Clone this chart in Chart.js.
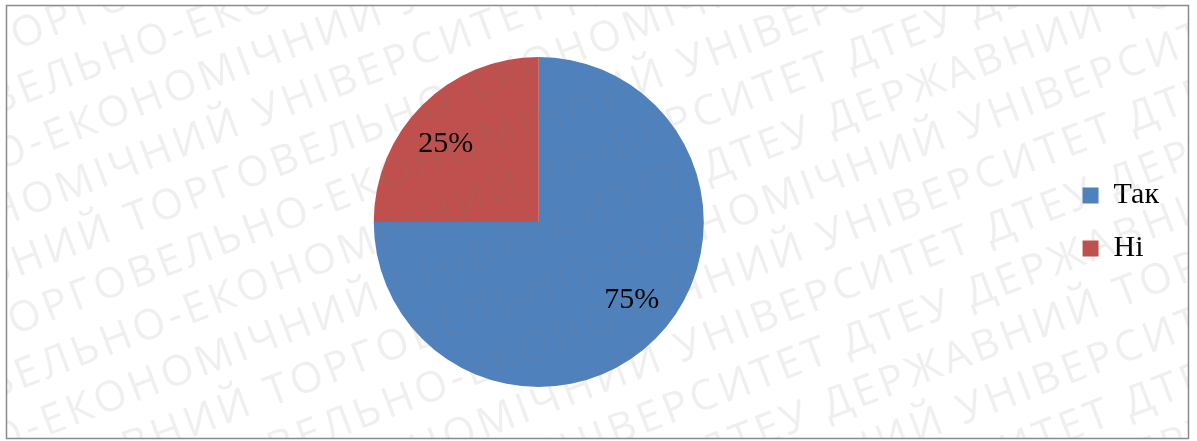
<!DOCTYPE html>
<html><head><meta charset="utf-8">
<script src="https://cdn.jsdelivr.net/npm/chart.js@4"></script>
<style>html,body{margin:0;padding:0;background:#fff}#wrap{width:1197px;height:441px;position:relative}</style>
</head><body><div id="wrap"><canvas id="c" width="1197" height="441"></canvas></div>
<script>
const categories = ['Так', 'Ні'];
const values = [75, 25];
const percentLabels = ['75%', '25%'];
const sliceColors = ['#4F81BD', '#C0504D'];
const watermarkText = 'ДТЕУ ДЕРЖАВНИЙ ТОРГОВЕЛЬНО-ЕКОНОМІЧНИЙ УНІВЕРСИТЕТ ';

const framePlugin = {
  id: 'frame',
  beforeDraw(chart) {
    const ctx = chart.ctx;
    ctx.save();
    ctx.fillStyle = '#fff';
    ctx.fillRect(0, 0, chart.width, chart.height);
    ctx.strokeStyle = '#8a8a8a';
    ctx.lineWidth = 1.5;
    ctx.strokeRect(6.5, 5.5, 1182, 433);
    ctx.restore();
  }
};

const sliceLabelPlugin = {
  id: 'sliceLabels',
  afterDatasetsDraw(chart) {
    const ctx = chart.ctx;
    const meta = chart.getDatasetMeta(0);
    ctx.save();
    ctx.font = '30px "Liberation Serif", "Times New Roman", serif';
    ctx.fillStyle = '#000';
    ctx.textAlign = 'center';
    ctx.textBaseline = 'middle';
    meta.data.forEach((arc, i) => {
      const p = arc.getProps(['x', 'y', 'startAngle', 'endAngle', 'outerRadius'], true);
      const mid = (p.startAngle + p.endAngle) / 2 - 5 * Math.PI / 180;
      const r = p.outerRadius * 0.735;
      ctx.fillText(percentLabels[i], p.x + Math.cos(mid) * r, p.y + Math.sin(mid) * r);
    });
    ctx.restore();
  }
};

const watermarkPlugin = {
  id: 'watermark',
  afterDraw(chart) {
    const ctx = chart.ctx;
    ctx.save();
    ctx.beginPath();
    ctx.rect(7, 6, 1181, 432);
    ctx.clip();
    ctx.font = '400 42px "Open Sans", "DejaVu Sans", sans-serif';
    try { ctx.letterSpacing = '4px'; } catch (e) {}
    ctx.fillStyle = 'rgba(120,120,120,0.12)';
    ctx.textBaseline = 'alphabetic';
    ctx.rotate(-21 * Math.PI / 180);
    const line = watermarkText.repeat(4);
    for (let k = -6; k < 22; k++) {
      const y = k * 53;
      const xoff = -((k * 173) % 760) - 300;
      ctx.fillText(line, xoff, y);
    }
    ctx.restore();
  }
};

new Chart(document.getElementById('c'), {
  type: 'pie',
  data: {
    labels: categories,
    datasets: [{
      data: values,
      backgroundColor: sliceColors,
      borderWidth: 0
    }]
  },
  options: {
    responsive: false,
    devicePixelRatio: 1,
    animation: false,
    layout: { padding: { left: 18, right: 28, top: 57, bottom: 54 } },
    plugins: {
      legend: {
        position: 'right',
        labels: {
          boxWidth: 16,
          boxHeight: 16,
          padding: 23,
          color: '#000',
          font: { family: '"Liberation Serif", "Times New Roman", serif', size: 30 }
        }
      },
      tooltip: { enabled: false }
    }
  },
  plugins: [framePlugin, sliceLabelPlugin, watermarkPlugin]
});
</script>
</body></html>
